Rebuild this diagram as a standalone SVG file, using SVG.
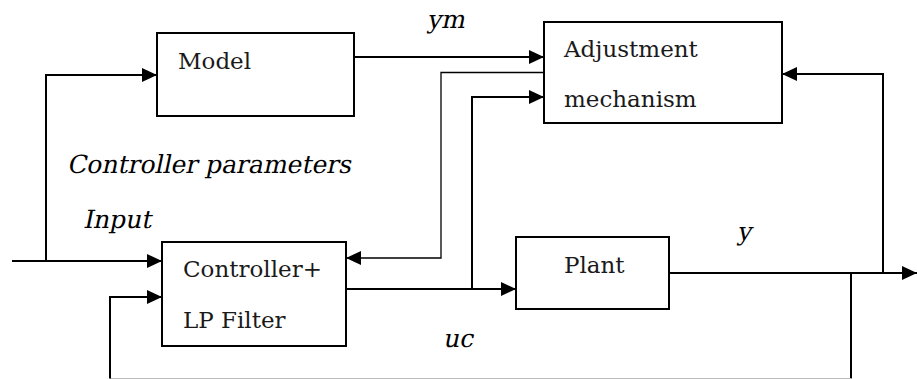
<svg xmlns="http://www.w3.org/2000/svg" width="917" height="379" viewBox="0 0 917 379">
<defs>
<marker id="ah" markerUnits="userSpaceOnUse" markerWidth="16" markerHeight="14" refX="15" refY="7" orient="auto">
<path d="M0,0 L15,7 L0,14 Z" fill="#000"/>
</marker>
<style>
.box{fill:#fff;stroke:#000;stroke-width:2}
.ln{fill:none;stroke:#000;stroke-width:2}
.thin{fill:none;stroke:#000;stroke-width:1.3}
.arr{marker-end:url(#ah)}
</style>
</defs>
<rect width="917" height="379" fill="#fff"/>
<g id="connectors">
<polyline class="ln arr" points="12,261 46,261 46,75 157,75"/>
<line class="ln arr" x1="46" y1="261" x2="162" y2="261"/>
<line class="ln arr" x1="354" y1="57" x2="544" y2="57"/>
<polyline class="thin arr" points="544,72.5 441,72.5 441,258 346,258"/>
<polyline class="ln arr" points="472,289 472,97 544,97"/>
<line class="ln arr" x1="347" y1="289" x2="516" y2="289"/>
<line class="ln arr" x1="669" y1="273" x2="917" y2="273"/>
<polyline class="ln arr" points="883,273 883,74 782,74"/>
<polyline class="ln" points="851,273 851,378.5"/>
<line x1="110" y1="378.5" x2="851" y2="378.5" stroke="#bbb" stroke-width="1.2"/>
<polyline class="ln arr" points="110,378.5 110,297 162,297"/>
</g>
<g id="model">
<rect class="box" x="157" y="33" width="197" height="83"/>
<text x="178" y="69" font-family="DejaVu Serif" font-size="23" fill="#1a1a1a">Model</text>
</g>
<g id="adjustment">
<rect class="box" x="544" y="22" width="238" height="101"/>
<text x="564" y="57" font-family="DejaVu Serif" font-size="23" fill="#1a1a1a">Adjustment</text>
<text x="564" y="107" font-family="DejaVu Serif" font-size="23" fill="#1a1a1a">mechanism</text>
</g>
<g id="controller">
<rect class="box" x="162" y="242" width="184" height="104"/>
<text x="183" y="277" font-family="DejaVu Serif" font-size="23" fill="#1a1a1a">Controller+</text>
<text x="183" y="328" font-family="DejaVu Serif" font-size="23" fill="#1a1a1a">LP Filter</text>
</g>
<g id="plant">
<rect class="box" x="516" y="237" width="153" height="72"/>
<text x="564" y="273" font-family="DejaVu Serif" font-size="23" fill="#1a1a1a">Plant</text>
</g>
<g id="labels">
<text transform="translate(427,28) skewX(-12)" x="0" y="0" font-family="DejaVu Serif" font-size="25">ym</text>
<text transform="translate(67,173) skewX(-12)" x="0" y="0" font-family="DejaVu Serif" font-size="25">Controller parameters</text>
<text transform="translate(83,228) skewX(-12)" x="0" y="0" font-family="DejaVu Serif" font-size="25">Input</text>
<text transform="translate(737,240) skewX(-12)" x="0" y="0" font-family="DejaVu Serif" font-size="25">y</text>
<text transform="translate(443,347) skewX(-12)" x="0" y="0" font-family="DejaVu Serif" font-size="25">uc</text>
</g>
</svg>
